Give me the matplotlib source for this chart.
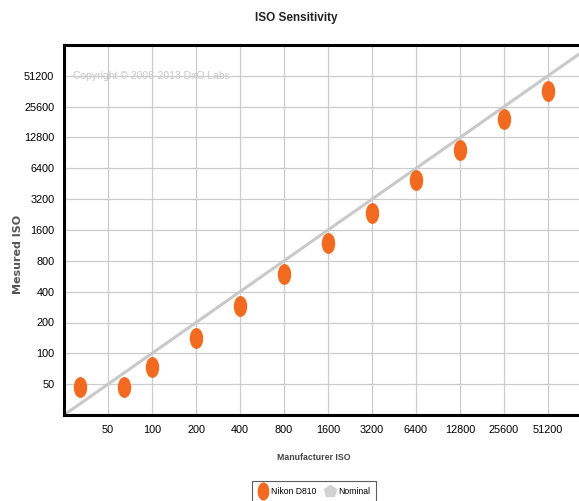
import numpy as np
import matplotlib
matplotlib.use("Agg")
import matplotlib.pyplot as plt
from matplotlib.path import Path
from matplotlib.transforms import Affine2D
from matplotlib.lines import Line2D

# data
manufacturer_iso = [32, 64, 100, 200, 400, 800, 1600, 3200, 6400, 12800, 25600, 51200]
measured_iso = [47, 47, 74, 140, 292, 591, 1187, 2363, 4890, 9600, 19280, 36450]
nominal = [25, 102400]
tick_values = [50, 100, 200, 400, 800, 1600, 3200, 6400, 12800, 25600, 51200]

narrow = ['Liberation Sans', 'DejaVu Sans']
orange = '#f26a1f'
gray_line = '#c9c9c9'

# tall ellipse marker (the picture looks squeezed sideways)
ellipse = Path.unit_circle().transformed(Affine2D().scale(0.62, 1.0))

fig = plt.figure(figsize=(5.79, 5.01), dpi=100)
ax = fig.add_axes([64 / 579, 86 / 501, 528 / 579, 370 / 501])

ax.set_xscale('log', base=2)
ax.set_yscale('log', base=2)
ax.set_xlim(25, 102400)
ax.set_ylim(25, 102400)

ax.plot(nominal, nominal, color=gray_line, lw=2.2, zorder=2)
ax.plot(manufacturer_iso, measured_iso, ls='none', marker=ellipse,
        markersize=14, color=orange, mec=orange, zorder=3)

ax.set_xticks(tick_values)
ax.set_yticks(tick_values)
ax.set_xticklabels([str(v) for v in tick_values], family=narrow, fontsize=7.8)
ax.set_yticklabels([str(v) for v in tick_values], family=narrow, fontsize=7.8)
ax.minorticks_off()
ax.tick_params(length=0, pad=7)
ax.grid(True, color='#cccccc', lw=0.9)
ax.set_axisbelow(True)

for side in ['top', 'left', 'bottom']:
    ax.spines[side].set_linewidth(2.2)
ax.spines['right'].set_visible(False)

# watermark
fig.text(73 / 579, 1 - 76 / 501, 'Copyright \u00a9 2008-2013 DxO Labs',
         family=narrow, fontsize=7.5, color='#c8c8c8', va='center')

fig.text(296 / 579, 1 - 18 / 501, 'ISO Sensitivity', family=narrow,
         fontweight='bold', fontsize=8.5, ha='center', va='center', color='#222222')
fig.text(314 / 579, 1 - 458 / 501, 'Manufacturer ISO', family=narrow,
         fontweight='bold', fontsize=6.3, ha='center', va='center', color='#444444')
fig.text(18 / 579, 1 - 254 / 501, 'Mesured ISO', fontweight='bold',
         fontsize=8, rotation=90, ha='center', va='center', color='#555555')

handles = [
    Line2D([], [], ls='none', marker=ellipse, markersize=12, color=orange),
    Line2D([], [], ls='none', marker='p', markersize=9, color='#d2d2d2'),
]
leg = fig.legend(handles, ['Nikon D810', 'Nominal'], loc='upper center',
                 bbox_to_anchor=(314 / 579, 1 - 477 / 501), ncol=2,
                 fancybox=False, frameon=True, edgecolor='#333333',
                 prop={'family': narrow, 'size': 6.2}, handletextpad=0.4,
                 columnspacing=0.9, borderpad=0.7, handlelength=1.2)
leg.get_frame().set_linewidth(0.8)

fig.savefig('out.png', dpi=100)
